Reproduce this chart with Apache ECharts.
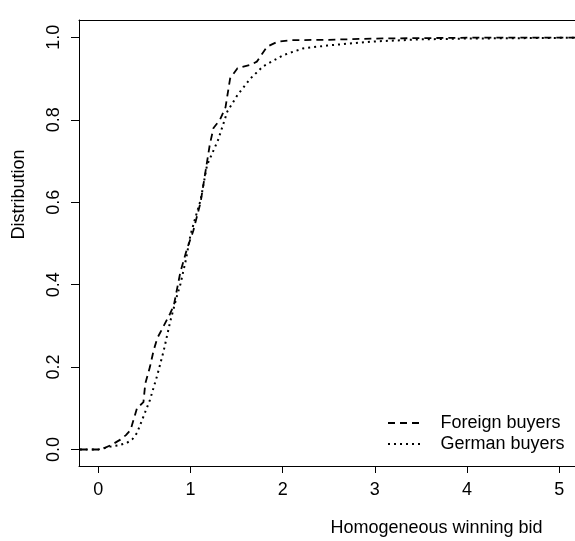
<!DOCTYPE html>
<html>
<head>
<meta charset="utf-8">
<script src="https://cdn.jsdelivr.net/npm/echarts@6/dist/echarts.min.js"></script>
<style>html,body{margin:0;padding:0;background:#fff;}#c{width:575px;height:541px;}</style>
</head>
<body>
<div id="c"></div>
<script>
var xTicks = [0, 1, 2, 3, 4, 5];
var yTicks = [0, 0.2, 0.4, 0.6, 0.8, 1.0];
var foreignX = [-0.2, 0, 0.05, 0.15, 0.24, 0.3, 0.35, 0.4, 0.42, 0.49, 0.51, 0.56, 0.6, 0.64, 0.71, 0.78, 0.82, 0.89, 0.96, 1.03, 1.11, 1.16, 1.21, 1.25, 1.32, 1.38, 1.43, 1.51, 1.65, 1.72, 1.83, 1.94, 2.08, 2.5, 3.0, 3.5, 4.0, 5.2];
var foreignY = [0, 0, 0.002, 0.012, 0.024, 0.035, 0.047, 0.085, 0.10, 0.115, 0.16, 0.2, 0.24, 0.27, 0.30, 0.33, 0.35, 0.43, 0.485, 0.53, 0.60, 0.67, 0.74, 0.78, 0.80, 0.83, 0.90, 0.925, 0.933, 0.941, 0.977, 0.989, 0.993, 0.994, 0.997, 0.998, 0.999, 0.999];
var germanX = [-0.2, 0, 0.13, 0.22, 0.31, 0.37, 0.42, 0.49, 0.56, 0.64, 0.71, 0.78, 0.85, 0.89, 0.95, 1.0, 1.05, 1.11, 1.18, 1.3, 1.4, 1.51, 1.65, 1.79, 2.01, 2.22, 2.48, 2.73, 3.0, 3.5, 4.0, 5.2];
var germanY = [0, 0, 0.007, 0.01, 0.016, 0.025, 0.04, 0.08, 0.12, 0.18, 0.24, 0.31, 0.37, 0.40, 0.46, 0.52, 0.56, 0.605, 0.69, 0.751, 0.82, 0.86, 0.90, 0.93, 0.957, 0.973, 0.98, 0.985, 0.99, 0.995, 0.997, 0.999];
var seriesNames = ['Foreign buyers', 'German buyers'];
var xName = 'Homogeneous winning bid';
var yName = 'Distribution';

function pairs(xs, ys) { return xs.map(function (x, i) { return [x, ys[i]]; }); }
var FONT = '18px "Liberation Sans", Arial, sans-serif';
var chart = echarts.init(document.getElementById('c'), null, {renderer: 'canvas'});
chart.setOption({
  animation: false,
  backgroundColor: '#fff',
  grid: {left: 79, right: 0, top: 20, bottom: 75},
  xAxis: [{
    type: 'value', min: -0.209, max: 5.171, position: 'bottom',
    axisLine: {show: true, onZero: false, lineStyle: {color: '#000', width: 1}},
    axisTick: {show: true, length: 7, customValues: xTicks, lineStyle: {color: '#000'}},
    axisLabel: {show: true, customValues: xTicks, color: '#000', fontSize: 18, fontFamily: 'Liberation Sans', margin: 15},
    splitLine: {show: false}
  }, {
    type: 'value', min: -0.209, max: 5.171, position: 'top',
    axisLine: {show: true, onZero: false, lineStyle: {color: '#000', width: 1}},
    axisTick: {show: false}, axisLabel: {show: false}, splitLine: {show: false}
  }],
  yAxis: {
    type: 'value', min: -0.04, max: 1.042, position: 'left',
    axisLine: {show: true, onZero: false, lineStyle: {color: '#000', width: 1}},
    axisTick: {show: true, length: 8, customValues: yTicks, lineStyle: {color: '#000'}},
    axisLabel: {show: true, customValues: yTicks, rotate: 90, color: '#000', fontSize: 18, fontFamily: 'Liberation Sans', margin: 16,
      formatter: function (v) { return Number(v).toFixed(1); }},
    splitLine: {show: false}
  },
  series: [{
    name: seriesNames[0], type: 'line', xAxisIndex: 0, data: pairs(foreignX, foreignY),
    showSymbol: false, symbol: 'none', smooth: false, clip: true,
    lineStyle: {color: '#000', width: 1.8, type: [7, 5]}
  }, {
    name: seriesNames[1], type: 'line', xAxisIndex: 0, data: pairs(germanX, germanY),
    showSymbol: false, symbol: 'none', smooth: false, clip: true,
    lineStyle: {color: '#000', width: 2, type: [2, 4]}
  }],
  graphic: [
    {type: 'text', x: 436.5, y: 527.7, style: {text: xName, font: FONT, fill: '#000', align: 'center', verticalAlign: 'middle'}},
    {type: 'text', x: 18.7, y: 194.5, rotation: Math.PI / 2, style: {text: yName, font: FONT, fill: '#000', align: 'center', verticalAlign: 'middle'}},
    {type: 'line', shape: {x1: 388, y1: 423, x2: 424, y2: 423}, style: {stroke: '#000', lineWidth: 1.8, lineDash: [7, 5]}},
    {type: 'line', shape: {x1: 388, y1: 444, x2: 424, y2: 444}, style: {stroke: '#000', lineWidth: 2, lineDash: [2, 4]}},
    {type: 'text', x: 440.5, y: 422.7, style: {text: seriesNames[0], font: FONT, fill: '#000', align: 'left', verticalAlign: 'middle'}},
    {type: 'text', x: 440.5, y: 443.7, style: {text: seriesNames[1], font: FONT, fill: '#000', align: 'left', verticalAlign: 'middle'}}
  ]
});
</script>
</body>
</html>
